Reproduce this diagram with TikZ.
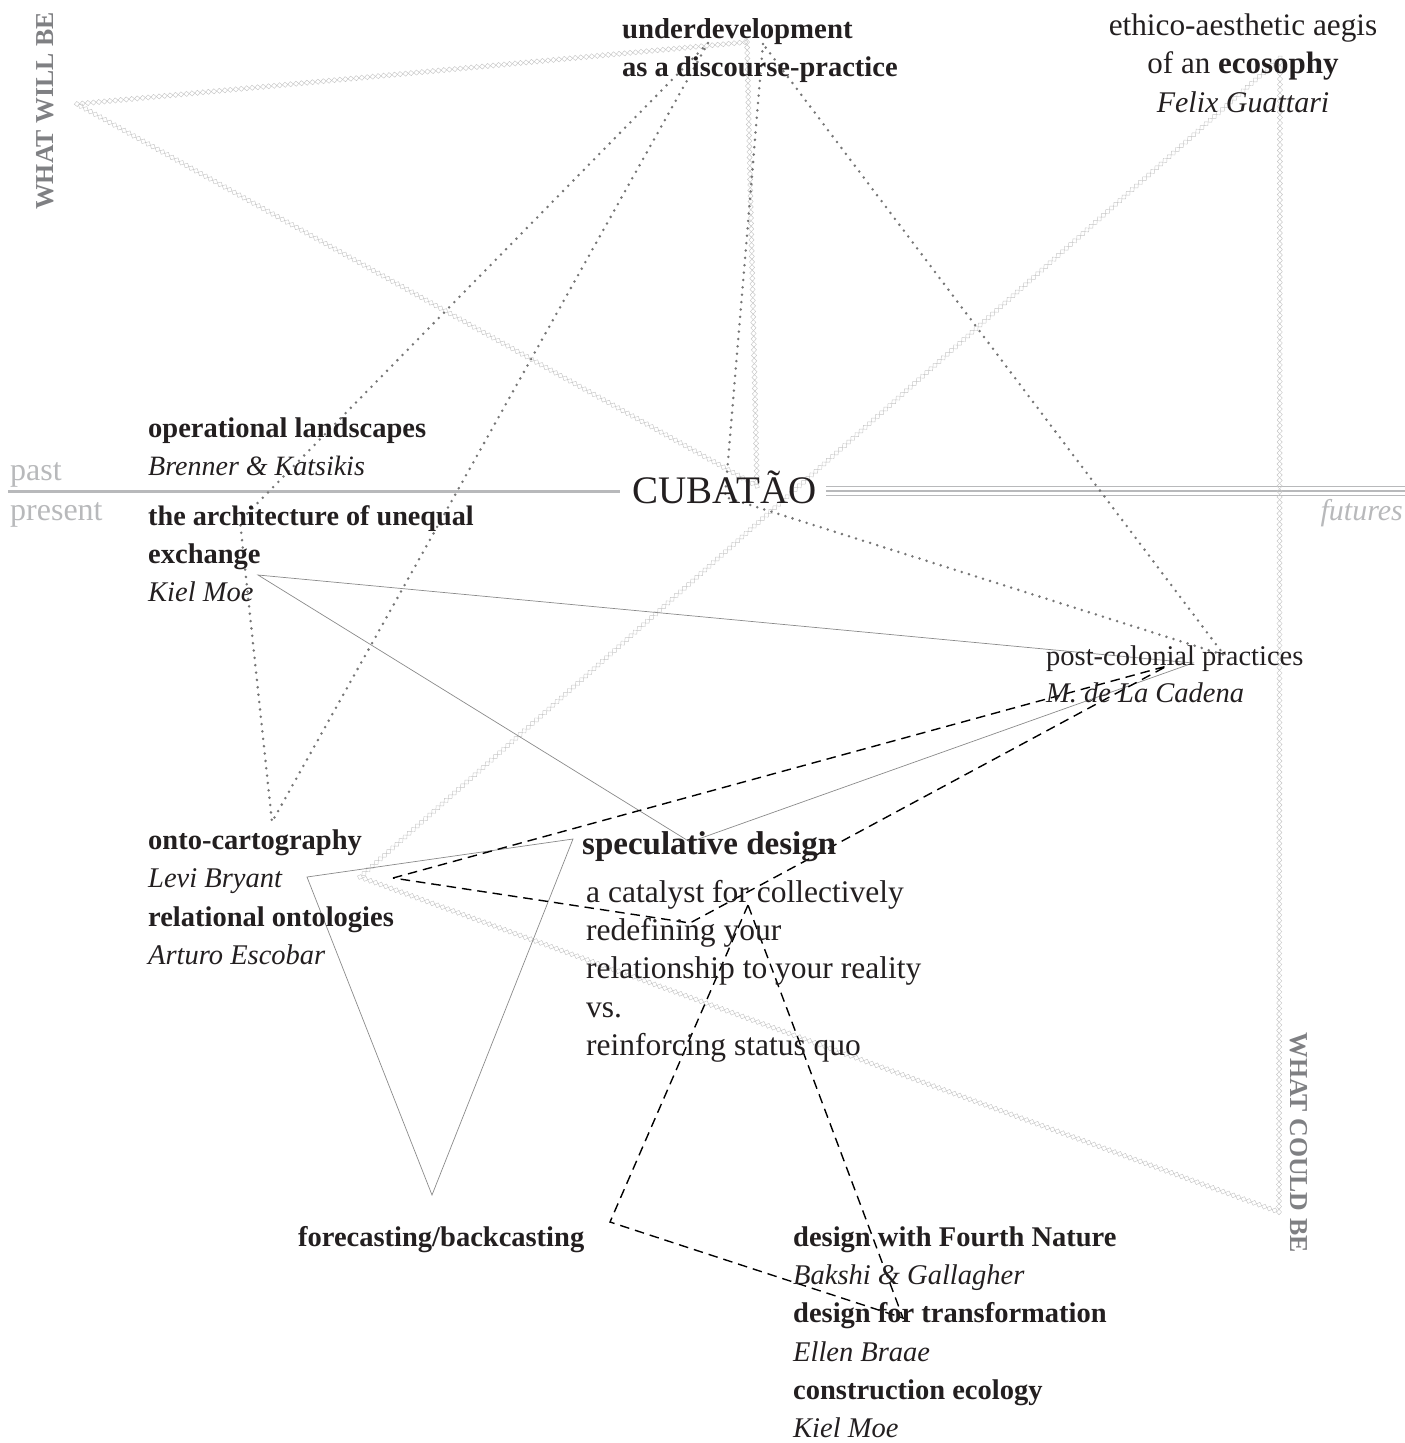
\documentclass[tikz,border=0pt]{standalone}
\usepackage{fontspec}
\setmainfont{Liberation Serif}
\usetikzlibrary{decorations.markings}
\definecolor{zzc}{HTML}{C6C6C6}
\definecolor{dotc}{HTML}{767676}
\definecolor{thinc}{HTML}{8A8A8A}
\definecolor{ltgrey}{HTML}{B8B9BB}
\definecolor{dkgrey}{HTML}{7F8083}
\definecolor{ink}{HTML}{231F20}
\tikzset{
  txt/.style={inner sep=0pt, anchor=base west, text=ink, font=\fontsize{28.5}{34}\selectfont},
  txtc/.style={txt, anchor=base},
  bodytxt/.style={txt, font=\fontsize{31.5}{38}\selectfont},
  big/.style={txt, font=\fontsize{33}{40}\selectfont\bfseries},
  side/.style={inner sep=0pt, text=dkgrey, font=\fontsize{25.8}{30}\selectfont\bfseries},
  timelbl/.style={inner sep=0pt, anchor=base west, text=ltgrey, font=\fontsize{32}{38}\selectfont},
  diamondchain/.style={postaction={decorate}, decoration={markings,
     mark=between positions 0 and 1 step 5.5pt with {\draw[draw=zzc, line width=0.45pt]
       (-2.75pt,0pt)--(0pt,2.6pt)--(2.75pt,0pt)--(0pt,-2.6pt)--cycle;}}},
  dotline/.style={draw=dotc, line width=2.8pt, line cap=round, dash pattern=on 0pt off 7.4pt},
  dashline/.style={draw=black, line width=1.4pt, dash pattern=on 9.5pt off 6pt},
  thinline/.style={draw=thinc, line width=0.7pt},
  axisl/.style={draw=ltgrey, line width=3pt},
  axisr/.style={draw=ltgrey, line width=1.3pt}
}
\begin{document}
\begin{tikzpicture}[x=1pt,y=-1pt]
\useasboundingbox (0,0) rectangle (1405,1443);

% vertices
\coordinate (W1) at (77,104);
\coordinate (W2) at (747,42);
\coordinate (W3) at (757,486);
\coordinate (G1) at (1280,58);
\coordinate (G2) at (360,877);
\coordinate (G3) at (1279,1212);
\coordinate (D1) at (708,43);
\coordinate (D2) at (240,521);
\coordinate (D3) at (272,822);
\coordinate (R1) at (763,44);
\coordinate (R2) at (725,497);
\coordinate (R3) at (1224,655);
\coordinate (T1) at (258,575);
\coordinate (T2) at (1193,663);
\coordinate (T3) at (690,842);
\coordinate (T4) at (307,877);
\coordinate (T5) at (573,839);
\coordinate (T6) at (432,1195);
\coordinate (P1) at (393,878);
\coordinate (P2) at (1167,666);
\coordinate (P3) at (690,923);
\coordinate (Q1) at (748,905);
\coordinate (Q2) at (610,1222);
\coordinate (Q3) at (903,1318);
\coordinate (AL1) at (8,491);
\coordinate (AL2) at (620,491);
\coordinate (AR1) at (826,486.7);
\coordinate (AR2) at (1405,486.7);
\coordinate (AR3) at (826,491);
\coordinate (AR4) at (1405,491);
\coordinate (AR5) at (826,495.3);
\coordinate (AR6) at (1405,495.3);

% axis
\draw[axisl] (AL1) -- (AL2);
\draw[axisr] (AR1) -- (AR2);
\draw[axisr] (AR3) -- (AR4);
\draw[axisr] (AR5) -- (AR6);

% diamond chains
\path[diamondchain] (W1) -- (W2);
\path[diamondchain] (W2) -- (W3);
\path[diamondchain] (W3) -- (W1);
\path[diamondchain] (G1) -- (G2);
\path[diamondchain] (G2) -- (G3);
\path[diamondchain] (G3) -- (G1);

% thin lines
\draw[thinline] (T1) -- (T2) -- (T3) -- cycle;
\draw[thinline] (T4) -- (T5) -- (T6) -- cycle;

% dotted
\draw[dotline] (D1) -- (D2) -- (D3) -- cycle;
\draw[dotline] (R1) -- (R2) -- (R3) -- cycle;

% dashed
\draw[dashline] (P1) -- (P2) -- (P3) -- cycle;
\draw[dashline] (Q1) -- (Q2) -- (Q3) -- cycle;

% texts
\node[side, rotate=90, anchor=base west] (wwb) at (53,210) {WHAT WILL BE};
\node[side, rotate=-90, anchor=base west] (wcb) at (1290,1032) {WHAT COULD BE};
\node[timelbl] (past) at (10,480) {past};
\node[timelbl] (present) at (10,520) {present};
\node[timelbl, anchor=base east, font=\fontsize{30}{36}\selectfont\itshape] (futures) at (1403,520) {futures};
\node[txt, font=\fontsize{39}{44}\selectfont] (cub) at (632,503) {CUBATÃO};

\node[txt, font=\fontsize{28.8}{34}\selectfont\bfseries] (ud1) at (622,38) {underdevelopment};
\node[txt, font=\fontsize{28.5}{34}\selectfont\bfseries] (ud2) at (622,76) {as a discourse-practice};

\node[txtc, font=\fontsize{31.3}{38}\selectfont] (eco1) at (1243,35) {ethico-aesthetic aegis};
\node[txtc, font=\fontsize{31}{38}\selectfont] (eco2) at (1243,73) {of an \textbf{ecosophy}};
\node[txtc, font=\fontsize{30}{38}\selectfont\itshape] (eco3) at (1243,112) {Felix Guattari};

\node[txt, font=\fontsize{28.5}{34}\selectfont\bfseries] (op1) at (148,437) {operational landscapes};
\node[txt, font=\fontsize{28}{34}\selectfont\itshape] (op2) at (148,475) {Brenner \& Katsikis};

\node[txt, font=\fontsize{28.2}{34}\selectfont\bfseries] (ar1) at (148,525) {the architecture of unequal};
\node[txt, font=\fontsize{28.5}{34}\selectfont\bfseries] (ar2) at (148,563) {exchange};
\node[txt, font=\fontsize{28.5}{34}\selectfont\itshape] (ar3) at (148,601) {Kiel Moe};

\node[txt] (pc1) at (1046,665) {post-colonial practices};
\node[txt, font=\fontsize{28.5}{34}\selectfont\itshape] (pc2) at (1046,702) {M. de La Cadena};

\node[txt, font=\fontsize{28.5}{34}\selectfont\bfseries] (oc1) at (148,849) {onto-cartography};
\node[txt, font=\fontsize{28.5}{34}\selectfont\itshape] (oc2) at (148,887) {Levi Bryant};
\node[txt, font=\fontsize{28.5}{34}\selectfont\bfseries] (oc3) at (148,926) {relational ontologies};
\node[txt, font=\fontsize{28.5}{34}\selectfont\itshape] (oc4) at (148,964) {Arturo Escobar};

\node[big] (sd0) at (582,854) {speculative design};
\node[bodytxt] (sd1) at (586,902) {a catalyst for collectively};
\node[bodytxt] (sd2) at (586,940) {redefining your};
\node[bodytxt] (sd3) at (586,978) {relationship to your reality};
\node[bodytxt] (sd4) at (586,1017) {vs.};
\node[bodytxt] (sd5) at (586,1055) {reinforcing status quo};

\node[txt, font=\fontsize{28.5}{34}\selectfont\bfseries] (fb) at (298,1246) {forecasting/backcasting};

\node[txt, font=\fontsize{28.5}{34}\selectfont\bfseries] (dw1) at (793,1246) {design with Fourth Nature};
\node[txt, font=\fontsize{28.5}{34}\selectfont\itshape] (dw2) at (793,1284) {Bakshi \& Gallagher};
\node[txt, font=\fontsize{28.5}{34}\selectfont\bfseries] (dw3) at (793,1322) {design for transformation};
\node[txt, font=\fontsize{28.5}{34}\selectfont\itshape] (dw4) at (793,1361) {Ellen Braae};
\node[txt, font=\fontsize{28.5}{34}\selectfont\bfseries] (dw5) at (793,1399) {construction ecology};
\node[txt, font=\fontsize{28.5}{34}\selectfont\itshape] (dw6) at (793,1437) {Kiel Moe};
\end{tikzpicture}
\end{document}
